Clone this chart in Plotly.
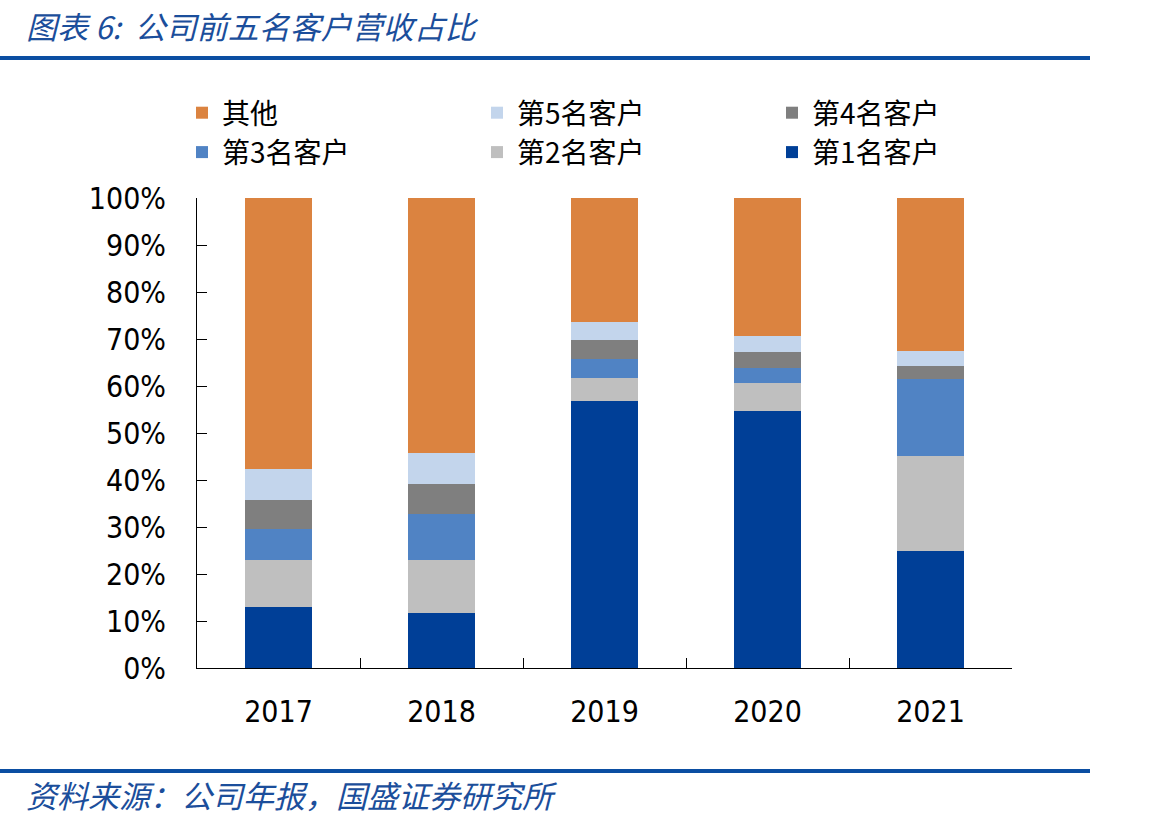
import plotly.graph_objects as go

years = ["2017", "2018", "2019", "2020", "2021"]
series_names = ["第1名客户", "第2名客户", "第3名客户", "第4名客户", "第5名客户", "其他"]
c1 = [12.9, 11.8, 56.8, 54.7, 24.9]
c2 = [10.0, 11.1, 4.9, 6.0, 20.2]
c3 = [6.6, 9.9, 4.0, 3.2, 16.4]
c4 = [6.2, 6.3, 4.1, 3.3, 2.7]
c5 = [6.6, 6.7, 3.9, 3.5, 3.3]
other = [57.7, 54.2, 26.3, 29.3, 32.5]
colors = ["#003F97", "#BFBFBF", "#5083C4", "#7F7F7F", "#C3D5EC", "#DB8340"]
y_ticks = [0, 10, 20, 30, 40, 50, 60, 70, 80, 90, 100]

W, H = 1170, 824
L, R, T, B = 197, 1012, 198, 668


def px(x):
    return (x - L) / (R - L)


def py(y):
    return (B - y) / (B - T)


fig = go.Figure()
for name, vals, col in zip(series_names, [c1, c2, c3, c4, c5, other], colors):
    fig.add_trace(go.Bar(
        x=years, y=[v / 100 for v in vals], name=name,
        marker=dict(color=col, line=dict(width=0)),
    ))

blue_text = "#1B4E9B"
blue_line = "#0B4EA2"

fig.update_layout(
    width=W, height=H,
    barmode="stack", bargap=0.583,
    plot_bgcolor="white", paper_bgcolor="white",
    margin=dict(l=L, r=W - R, t=T, b=H - B, autoexpand=False),
    showlegend=True,
    legend=dict(
        orientation="h", traceorder="reversed",
        x=px(182), xanchor="left", y=py(88), yanchor="top",
        font=dict(family="Noto Sans CJK SC", size=28, color="black"),
        entrywidth=250, itemwidth=30, tracegroupgap=0,
        bgcolor="rgba(0,0,0,0)",
    ),
    xaxis=dict(
        showline=True, linecolor="black", linewidth=1,
        ticks="inside", ticklen=10, tickcolor="black", tickson="boundaries",
        tickfont=dict(family="DejaVu Sans Condensed", size=30, color="black"),
        ticklabelstandoff=17, showgrid=False, zeroline=False,
    ),
    yaxis=dict(
        range=[0, 1], tickvals=[v / 100 for v in y_ticks],
        ticktext=[f"{v}%" for v in y_ticks],
        showline=True, linecolor="black", linewidth=1,
        ticks="inside", ticklen=10, tickcolor="black",
        tickfont=dict(family="DejaVu Sans Condensed", size=30, color="black"),
        ticklabelstandoff=24, showgrid=False, zeroline=False,
    ),
    shapes=[
        dict(type="line", xref="paper", yref="paper", x0=px(0), x1=px(1090), y0=py(58), y1=py(58),
             line=dict(color=blue_line, width=4)),
        dict(type="line", xref="paper", yref="paper", x0=px(0), x1=px(1090), y0=py(771), y1=py(771),
             line=dict(color=blue_line, width=4)),
    ],
    annotations=[
        dict(text="图表 6:  公司前五名客户营收占比", xref="paper", yref="paper",
             x=px(24), y=py(25), xanchor="left", yanchor="middle", showarrow=False,
             font=dict(family="Noto Sans CJK SC", size=31, color=blue_text, style="italic")),
        dict(text="资料来源：公司年报，国盛证券研究所", xref="paper", yref="paper",
             x=px(24), y=py(794), xanchor="left", yanchor="middle", showarrow=False,
             font=dict(family="Noto Sans CJK SC", size=31, color=blue_text, style="italic")),
    ],
)

fig.write_html("out.html")
